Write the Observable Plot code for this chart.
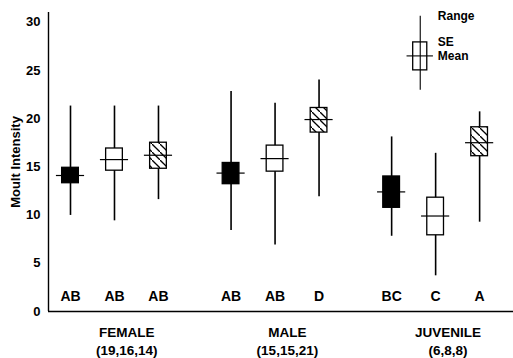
<!DOCTYPE html>
<html>
<head>
<meta charset="utf-8">
<script src="https://cdn.jsdelivr.net/npm/d3@7"></script>
<script src="https://cdn.jsdelivr.net/npm/@observablehq/plot@0.6"></script>
<style>
  html, body { margin: 0; padding: 0; background: #fff; }
</style>
</head>
<body>
<div id="chart"></div>
<script>
// ---- data ----
const groups = ["FEMALE", "MALE", "JUVENILE"];
const sampleSizes = ["(19,16,14)", "(15,15,21)", "(6,8,8)"];
const boxTypes = ["solid", "open", "hatched"];
const means     = [14.1, 15.75, 16.2,  14.35, 15.85, 19.9,  12.4, 9.9, 17.5];
const seLow     = [13.3, 14.6, 14.8,   13.2, 14.5, 18.55,   10.75, 7.9, 16.1];
const seHigh    = [14.9, 16.9, 17.5,   15.4, 17.2, 21.1,    14.0, 11.8, 19.1];
const rangeLow  = [9.96, 9.4, 11.6,    8.4, 6.9, 11.9,      7.8, 3.7, 9.26];
const rangeHigh = [21.3, 21.3, 21.3,   22.8, 21.6, 24.0,    18.1, 16.4, 20.7];
const letters   = ["AB", "AB", "AB",   "AB", "AB", "D",     "BC", "C", "A"];
const legendValues = {mean: 26.5, seLow: 25.0, seHigh: 27.9, rangeLow: 22.95, rangeHigh: 30.6};
const legendLabels = ["Range", "SE", "Mean"];
const yTicks = [0, 5, 10, 15, 20, 25, 30];
const yLabel = "Moult Intensity";

// ---- layout helpers ----
const GROUP_STEP = 3.65;
const BOX_HALF = 0.19;
const MEAN_HALF = 0.32;

const rows = [];
groups.forEach((g, gi) => {
  boxTypes.forEach((t, ti) => {
    const k = gi * 3 + ti;
    rows.push({
      group: g, type: t, pos: gi * GROUP_STEP + ti,
      mean: means[k], selo: seLow[k], sehi: seHigh[k],
      rlo: rangeLow[k], rhi: rangeHigh[k], letter: letters[k]
    });
  });
});
const groupRows = groups.map((g, gi) => ({
  pos: gi * GROUP_STEP + 1.28,
  text: g + "\n" + sampleSizes[gi]
}));
const legendPos = 2 * GROUP_STEP + 0.65;
const legendRow = [{pos: legendPos, ...legendValues}];
const legendTextRows = [
  {text: legendLabels[0], y: legendValues.rangeHigh},
  {text: legendLabels[1], y: legendValues.seHigh},
  {text: legendLabels[2], y: legendValues.mean}
];

const font = "'Liberation Sans', Arial, Helvetica, sans-serif";

const svg = Plot.plot({
  width: 513,
  height: 358,
  marginLeft: 48,
  marginRight: 0,
  marginTop: 12,
  marginBottom: 47,
  style: {fontFamily: font, background: "#fff", color: "#000"},
  x: {domain: [-0.5, 10.07], axis: null},
  y: {domain: [0, 31]},
  marks: [
    Plot.axisY({ticks: yTicks, tickSize: 0, tickPadding: 8, fontSize: 13, fontWeight: "bold", label: null}),
    Plot.text([yLabel], {frameAnchor: "left", textAnchor: "middle", rotate: -90, dx: -33, fontSize: 13, fontWeight: "bold", fill: "#000"}),
    Plot.ruleX([-0.5], {stroke: "#000", strokeWidth: 1.4}),
    Plot.ruleY([0], {stroke: "#000", strokeWidth: 1.4}),
    // ranges
    Plot.ruleX(rows, {x: "pos", y1: "rlo", y2: "rhi", stroke: "#000", strokeWidth: 1.6}),
    Plot.ruleX(legendRow, {x: "pos", y1: "rangeLow", y2: "rangeHigh", stroke: "#000", strokeWidth: 1.1}),
    // SE boxes
    Plot.rect(rows.filter(d => d.type === "solid"), {x1: d => d.pos - BOX_HALF, x2: d => d.pos + BOX_HALF, y1: "selo", y2: "sehi", fill: "#000", stroke: "#000", strokeWidth: 1.3}),
    Plot.rect(rows.filter(d => d.type === "open"), {x1: d => d.pos - BOX_HALF, x2: d => d.pos + BOX_HALF, y1: "selo", y2: "sehi", fill: "#fff", stroke: "#000", strokeWidth: 1.3}),
    Plot.rect(rows.filter(d => d.type === "hatched"), {x1: d => d.pos - BOX_HALF, x2: d => d.pos + BOX_HALF, y1: "selo", y2: "sehi", fill: "url(#hatch)", stroke: "#000", strokeWidth: 1.3}),
    Plot.rect(legendRow, {x1: d => d.pos - 0.16, x2: d => d.pos + 0.16, y1: "seLow", y2: "seHigh", fill: "none", stroke: "#000", strokeWidth: 1.3}),
    // means
    Plot.ruleY(rows, {y: "mean", x1: d => d.pos - MEAN_HALF, x2: d => d.pos + MEAN_HALF, stroke: "#000", strokeWidth: 1.2}),
    Plot.ruleY(legendRow, {y: "mean", x1: d => d.pos - 0.3, x2: d => d.pos + 0.3, stroke: "#000", strokeWidth: 1.1}),
    // letters
    Plot.text(rows, {x: "pos", y: () => 1.55, text: "letter", fontSize: 14, fontWeight: "bold", fill: "#000"}),
    // group labels
    Plot.text(groupRows, {x: "pos", y: () => 0, text: "text", lineAnchor: "top", dy: 13, lineHeight: 1.3, fontSize: 13.5, fontWeight: "bold", fill: "#000"}),
    // legend labels
    Plot.text(legendTextRows, {x: () => legendPos + 0.4, y: "y", text: "text", textAnchor: "start", fontSize: 12, fontWeight: "bold", fill: "#000"})
  ]
});

const defs = d3.select(svg).insert("defs", ":first-child");
const pat = defs.append("pattern")
  .attr("id", "hatch")
  .attr("patternUnits", "userSpaceOnUse")
  .attr("width", 8).attr("height", 8);
pat.append("rect").attr("width", 8).attr("height", 8).attr("fill", "#fff");
pat.append("path").attr("d", "M-1,-1L9,9").attr("stroke", "#000").attr("stroke-width", 1.3);

document.getElementById("chart").appendChild(svg);
</script>
</body>
</html>
